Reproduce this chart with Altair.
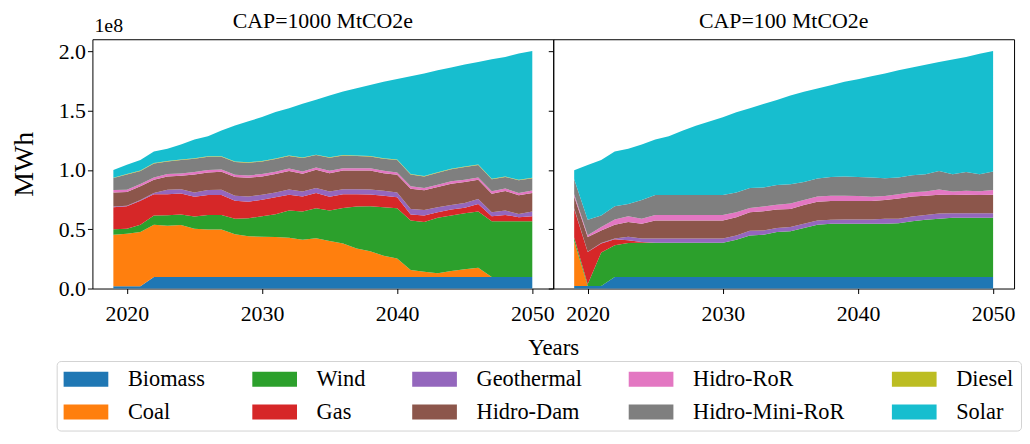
import altair as alt
import pandas as pd

FONT = "Liberation Serif"

years = list(range(2019, 2051))

techs = ["Biomass", "Coal", "Wind", "Gas", "Geothermal", "Hidro-Dam",
         "Hidro-RoR", "Hidro-Mini-RoR", "Diesel", "Solar"]
tech_colors = ["#1f77b4", "#ff7f0e", "#2ca02c", "#d62728", "#9467bd",
               "#8c564b", "#e377c2", "#7f7f7f", "#bcbd22", "#17becf"]
# legend laid out row by row (5 columns), which matches the reference's column-wise order
legend_order = ["Biomass", "Wind", "Geothermal", "Hidro-RoR", "Diesel",
                "Coal", "Gas", "Hidro-Dam", "Hidro-Mini-RoR", "Solar"]

panel_titles = ["CAP=1000 MtCO2e", "CAP=100 MtCO2e"]
x_ticks = [2020, 2030, 2040, 2050]
y_ticks = [0, 0.5e8, 1.0e8, 1.5e8, 2.0e8]

# ---- CAP=1000 MtCO2e (values in million MWh, 2019..2050) ----
biomass_1000 = [2.0, 2.0, 2.0, 9.8, 9.8, 9.8, 9.8, 9.8, 9.8, 9.8,
                9.8, 9.8, 9.8, 9.8, 9.8, 9.8, 9.8, 9.8, 9.8, 9.8,
                9.8, 9.8, 9.8, 9.8, 9.8, 9.8, 9.8, 9.8, 9.8, 9.8, 9.8, 9.8]
coal_1000 = [43.4, 44.2, 45.6, 43.9, 43.1, 43.7, 40.6, 40.0, 40.0, 35.9,
             34.2, 33.9, 33.6, 33.1, 31.4, 32.5, 30.3, 28.1, 23.9, 21.7,
             17.8, 15.5, 5.8, 4.4, 3.0, 5.0, 6.4, 7.7, 0.0, 0.0, 0.0, 0.0]
wind_1000 = [4.5, 4.2, 6.1, 7.8, 8.9, 8.9, 10.3, 12.3, 12.3, 13.1,
             15.3, 17.3, 19.3, 22.8, 23.7, 25.4, 25.6, 30.0, 35.4, 37.8,
             40.9, 42.4, 41.8, 41.8, 46.8, 46.7, 47.3, 47.4, 47.0, 47.0, 47.0, 47.0]
gas_1000 = [18.7, 18.9, 20.4, 18.1, 17.8, 17.8, 16.7, 16.7, 16.7, 15.3,
            13.9, 13.9, 14.2, 13.4, 12.8, 12.8, 11.7, 11.7, 10.5, 10.0,
            9.7, 9.2, 5.0, 5.5, 4.7, 5.1, 4.7, 6.4, 4.2, 5.3, 3.4, 4.2]
geo_1000 = [0.5, 0.5, 0.5, 0.9, 3.7, 3.6, 3.6, 4.2, 4.5, 4.1,
            4.5, 4.2, 4.1, 4.4, 4.2, 4.2, 4.5, 4.2, 4.2, 4.2,
            4.2, 4.1, 4.7, 4.8, 4.2, 3.9, 3.9, 4.2, 3.3, 3.6, 2.7, 3.9]
dam_1000 = [11.9, 11.6, 11.6, 11.2, 11.2, 11.3, 15.2, 14.9, 15.1, 15.8,
            15.7, 15.4, 15.5, 15.7, 14.8, 15.4, 15.4, 15.7, 15.7, 16.0,
            14.9, 14.9, 17.1, 16.5, 17.1, 17.9, 17.7, 16.2, 15.7, 16.6, 15.7, 15.7]
ror_1000 = [2.0, 2.0, 2.0, 2.0, 2.0, 2.0, 2.0, 2.0, 2.0, 2.0,
            2.0, 2.0, 2.0, 2.0, 2.0, 2.0, 2.0, 2.0, 2.0, 2.0,
            2.0, 2.0, 2.0, 2.0, 2.0, 2.0, 2.0, 2.0, 2.0, 2.0, 2.0, 2.0]
mini_1000 = [10.1, 12.7, 10.9, 11.8, 10.7, 11.2, 11.2, 11.2, 10.7, 10.7,
             10.7, 10.7, 10.7, 10.5, 11.3, 10.4, 11.0, 10.7, 10.2, 9.9,
             10.1, 10.4, 9.9, 9.6, 10.1, 10.1, 10.7, 10.4, 10.2, 9.8, 10.7, 10.4]
diesel_1000 = [0.4, 0.4, 0.4, 0.4, 0.4, 0.4, 0.4, 0.4, 0.4, 0.4,
               0.4, 0.4, 0.4, 0.4, 0.4, 0.4, 0.4, 0.4, 0.4, 0.4,
               0.4, 0.4, 0.4, 0.4, 0.4, 0.4, 0.4, 0.4, 0.4, 0.4, 0.4, 0.4]
solar_1000 = [6.4, 7.8, 8.9, 9.7, 10.3, 12.8, 15.9, 17.0, 21.7, 30.3,
              34.5, 37.0, 39.2, 40.0, 45.4, 46.2, 52.1, 53.5, 56.7, 59.8,
              64.6, 67.9, 82.6, 86.6, 86.0, 85.5, 86.0, 86.6, 100.7, 100.8, 106.4, 106.9]

# ---- CAP=100 MtCO2e (values in million MWh, 2019..2050) ----
biomass_100 = [2.2, 2.2, 2.2, 9.8, 9.8, 9.8, 9.8, 9.8, 9.8, 9.8,
               9.8, 9.8, 9.8, 9.8, 9.8, 9.8, 9.8, 9.8, 9.8, 9.8,
               9.8, 9.8, 9.8, 9.8, 9.8, 9.8, 9.8, 9.8, 9.8, 9.8, 9.8, 9.8]
coal_100 = [37.8, 0.0, 0.0, 0.0, 0.0, 0.0, 0.0, 0.0, 0.0, 0.0,
            0.0, 0.0, 0.0, 0.0, 0.0, 0.0, 0.0, 0.0, 0.0, 0.0,
            0.0, 0.0, 0.0, 0.0, 0.0, 0.0, 0.0, 0.0, 0.0, 0.0, 0.0, 0.0]
wind_100 = [3.0, 1.5, 28.2, 26.7, 28.6, 28.9, 28.9, 28.9, 28.9, 28.9,
            28.9, 28.9, 31.4, 35.0, 35.6, 37.8, 38.4, 41.2, 43.9, 44.8,
            44.8, 44.8, 44.8, 44.8, 45.3, 47.0, 48.1, 49.0, 49.8, 49.8, 49.8, 49.8]
gas_100 = [24.1, 27.2, 7.5, 5.0, 2.3, 0.6, 0.0, 0.0, 0.0, 0.0,
           0.0, 0.0, 0.0, 0.0, 0.0, 0.0, 0.0, 0.0, 0.0, 0.0,
           0.0, 0.0, 0.0, 0.0, 0.0, 0.0, 0.0, 0.0, 0.0, 0.0, 0.0, 0.0]
geo_100 = [0.5, 0.2, 0.4, 0.6, 3.0, 2.8, 3.4, 3.4, 3.4, 3.4,
           3.4, 3.4, 3.6, 3.9, 3.6, 3.4, 3.6, 3.6, 3.7, 3.3,
           3.6, 3.6, 3.6, 4.2, 3.8, 4.0, 4.2, 4.4, 3.9, 3.9, 3.9, 3.9]
dam_100 = [10.1, 12.3, 10.7, 11.6, 12.3, 12.5, 15.3, 15.3, 15.3, 15.3,
           15.3, 15.3, 15.4, 15.6, 16.2, 15.6, 15.3, 15.8, 15.8, 15.9,
           15.6, 15.6, 15.6, 15.8, 17.1, 16.9, 16.1, 15.9, 15.3, 15.6, 15.3, 15.6]
ror_100 = [1.9, 1.5, 2.8, 4.5, 5.0, 4.2, 4.7, 4.7, 4.7, 4.7,
           4.7, 4.7, 4.1, 3.7, 3.9, 4.1, 4.7, 4.2, 4.5, 4.4,
           4.4, 4.2, 3.6, 3.4, 3.4, 3.4, 3.6, 4.4, 3.1, 3.3, 3.3, 3.9]
mini_100 = [12.6, 13.0, 9.7, 11.1, 10.3, 15.8, 16.7, 16.7, 16.7, 16.7,
            16.7, 16.7, 16.7, 16.7, 16.1, 16.5, 16.2, 15.3, 15.0, 15.9,
            16.2, 16.1, 16.2, 15.0, 14.2, 14.4, 14.5, 15.6, 14.4, 15.9, 14.2, 15.6]
diesel_100 = [0.0, 0.0, 0.0, 0.0, 0.0, 0.0, 0.0, 0.0, 0.0, 0.0,
              0.0, 0.0, 0.0, 0.0, 0.0, 0.0, 0.0, 0.0, 0.0, 0.0,
              0.0, 0.0, 0.0, 0.0, 0.0, 0.0, 0.0, 0.0, 0.0, 0.0, 0.0, 0.0]
solar_100 = [7.5, 46.2, 46.8, 46.2, 46.5, 46.8, 46.8, 49.6, 54.3, 58.5,
             62.1, 65.7, 67.7, 67.3, 70.5, 71.8, 74.7, 76.1, 76.0, 77.4,
             79.9, 82.4, 85.4, 88.3, 90.4, 90.8, 92.5, 91.9, 96.9, 96.9, 101.7, 101.6]

series_1000 = [biomass_1000, coal_1000, wind_1000, gas_1000, geo_1000,
               dam_1000, ror_1000, mini_1000, diesel_1000, solar_1000]
series_100 = [biomass_100, coal_100, wind_100, gas_100, geo_100,
              dam_100, ror_100, mini_100, diesel_100, solar_100]


def build(series):
    rows = []
    for k, t in enumerate(techs):
        for yr, v in zip(years, series[k]):
            rows.append({"Year": yr, "Technology": t, "stack": k, "MWh": v * 1e6})
    return pd.DataFrame(rows)


color_map = dict(zip(techs, tech_colors))
legend = alt.Legend(
    title=None, orient="none", legendX=-36, legendY=324,
    direction="horizontal", columns=5,
    symbolType="M-3,-1H3V1H-3Z", symbolSize=225, symbolOffset=11.25,
    symbolStrokeWidth=0, symbolOpacity=1,
    labelFont=FONT, labelFontSize=22.5, labelColor="black", labelLimit=400,
    labelOffset=31, columnPadding=47, rowPadding=10, padding=7,
    strokeColor="#d3d3d3", fillColor="white", cornerRadius=4,
)
color = alt.Color("Technology:N",
                  scale=alt.Scale(domain=legend_order,
                                  range=[color_map[t] for t in legend_order]),
                  legend=legend)

W, H = 464, 251


def panel(df, title, first):
    if first:
        x_axis = alt.Axis(values=x_ticks, format="d", title="Years",
                          titleX=W, titleY=66, titleAlign="center",
                          titleBaseline="alphabetic", titleFont=FONT,
                          titleFontSize=23, titleFontWeight="normal",
                          titleColor="black", labelPadding=10)
        y_axis = alt.Axis(values=y_ticks,
                          labelExpr="format(datum.value / 1e8, '.1f')",
                          labelPadding=2,
                          title="MWh", titleX=-82, titleY=H / 2,
                          titleAngle=270, titleAlign="center",
                          titleBaseline="top", titleFont=FONT,
                          titleFontSize=28, titleFontWeight="normal",
                          titleColor="black")
    else:
        x_axis = alt.Axis(values=x_ticks, format="d", title=None, labelPadding=10)
        y_axis = alt.Axis(values=y_ticks, labels=False, title=None)

    area = alt.Chart(df).mark_area(interpolate="linear", opacity=1).encode(
        x=alt.X("Year:Q", scale=alt.Scale(domain=[2017.45, 2051.55], nice=False, zero=False),
                axis=x_axis),
        y=alt.Y("MWh:Q", stack="zero",
                scale=alt.Scale(domain=[0, 2.102e8], nice=False), axis=y_axis),
        color=color,
        order=alt.Order("stack:Q", sort="ascending"),
    )
    title_txt = alt.Chart(pd.DataFrame({"label": [title]})).mark_text(
        align="center", baseline="top", font=FONT, fontSize=22, color="black"
    ).encode(x=alt.value(W / 2), y=alt.value(-28), text="label:N")
    layers = [area, title_txt]
    if first:
        offset_txt = alt.Chart(pd.DataFrame({"label": ["1e8"]})).mark_text(
            align="left", baseline="top", font=FONT, fontSize=20, color="black"
        ).encode(x=alt.value(2), y=alt.value(-23), text="label:N")
        layers.append(offset_txt)
    return alt.layer(*layers).properties(width=W, height=H)


left = panel(build(series_1000), panel_titles[0], True)
right = panel(build(series_100), panel_titles[1], False)

chart = alt.hconcat(left, right, spacing=0, bounds="flush").resolve_scale(
    color="shared"
).properties(
    padding={"left": 2, "top": 0, "right": 0, "bottom": 0}
).configure_view(
    stroke="black", strokeWidth=1
).configure_axis(
    labelFont=FONT, labelFontSize=22, labelColor="black",
    tickColor="black", tickSize=5, tickWidth=1,
    domain=False, grid=False,
)

chart.save("out.html", embed_options={"renderer": "svg", "actions": False})
